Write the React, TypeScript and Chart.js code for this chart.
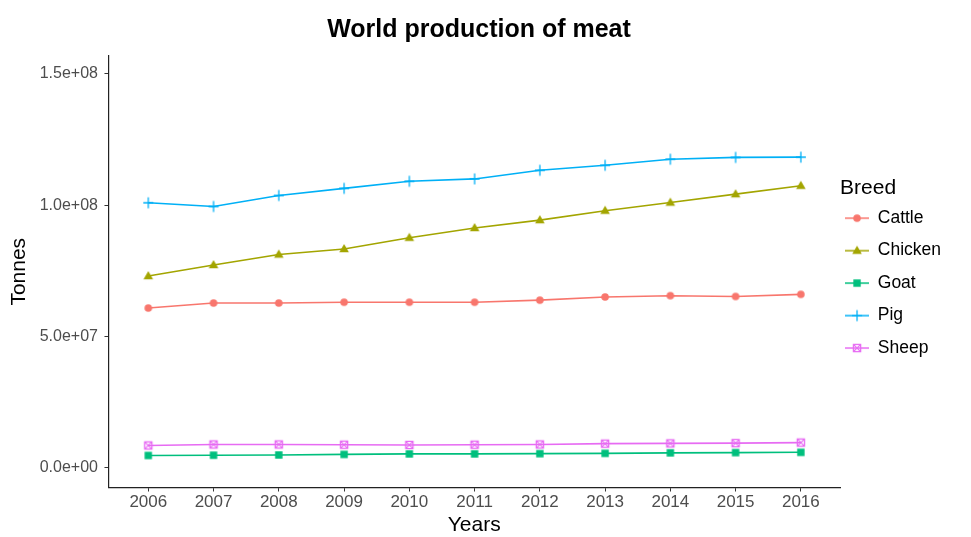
import React, { useEffect, useRef } from "react";
import { Chart, registerables } from "chart.js";

Chart.register(...registerables);

const years = [2006, 2007, 2008, 2009, 2010, 2011, 2012, 2013, 2014, 2015, 2016];
const cattle = [6.08e7, 6.27e7, 6.27e7, 6.3e7, 6.3e7, 6.3e7, 6.38e7, 6.5e7, 6.55e7, 6.52e7, 6.6e7];
const chicken = [7.3e7, 7.72e7, 8.12e7, 8.33e7, 8.76e7, 9.13e7, 9.43e7, 9.79e7, 1.01e8, 1.042e8, 1.074e8];
const goat = [4.6e6, 4.7e6, 4.8e6, 5.0e6, 5.2e6, 5.2e6, 5.3e6, 5.4e6, 5.6e6, 5.7e6, 5.8e6];
const pig = [1.009e8, 0.995e8, 1.037e8, 1.064e8, 1.091e8, 1.1e8, 1.133e8, 1.152e8, 1.175e8, 1.182e8, 1.183e8];
const sheep = [8.4e6, 8.8e6, 8.8e6, 8.7e6, 8.6e6, 8.7e6, 8.8e6, 9.1e6, 9.2e6, 9.3e6, 9.5e6];
const breeds = ["Cattle", "Chicken", "Goat", "Pig", "Sheep"];
const colors = ["#F8766D", "#A3A500", "#00BF7D", "#00B0F6", "#E76BF3"];
const markers = ["circle", "triangle", "square", "plus", "squarecross"];
const yTicks = [0, 5e7, 1e8, 1.5e8];

const FONT = "'Liberation Sans', Arial, sans-serif";

function drawMarker(ctx: CanvasRenderingContext2D, kind: string, color: string, cx: number, cy: number) {
  ctx.fillStyle = color;
  ctx.strokeStyle = color;
  ctx.lineWidth = 1.3;
  if (kind === "circle") {
    ctx.beginPath();
    ctx.arc(cx, cy, 3.8, 0, Math.PI * 2);
    ctx.fill();
  } else if (kind === "triangle") {
    ctx.beginPath();
    ctx.moveTo(cx, cy - 5);
    ctx.lineTo(cx + 4.8, cy + 3.3);
    ctx.lineTo(cx - 4.8, cy + 3.3);
    ctx.closePath();
    ctx.fill();
  } else if (kind === "square") {
    ctx.fillRect(cx - 3.7, cy - 3.7, 7.4, 7.4);
  } else if (kind === "plus") {
    ctx.beginPath();
    ctx.moveTo(cx - 5, cy);
    ctx.lineTo(cx + 5, cy);
    ctx.moveTo(cx, cy - 5.5);
    ctx.lineTo(cx, cy + 5.5);
    ctx.stroke();
  } else {
    ctx.strokeRect(cx - 3.6, cy - 3.6, 7.2, 7.2);
    ctx.beginPath();
    ctx.moveTo(cx - 3.6, cy - 3.6);
    ctx.lineTo(cx + 3.6, cy + 3.6);
    ctx.moveTo(cx + 3.6, cy - 3.6);
    ctx.lineTo(cx - 3.6, cy + 3.6);
    ctx.stroke();
  }
}

function markerCanvas(kind: string, color: string): HTMLCanvasElement {
  const c = document.createElement("canvas");
  c.width = 14;
  c.height = 14;
  const ctx = c.getContext("2d")!;
  drawMarker(ctx, kind, color, 7, 7);
  return c;
}

function legendCanvas(kind: string, color: string): HTMLCanvasElement {
  const c = document.createElement("canvas");
  c.width = 24;
  c.height = 14;
  const ctx = c.getContext("2d")!;
  ctx.strokeStyle = color;
  ctx.lineWidth = 1.5;
  ctx.beginPath();
  ctx.moveTo(0, 7);
  ctx.lineTo(24, 7);
  ctx.stroke();
  drawMarker(ctx, kind, color, 12, 7);
  return c;
}

function sci(v: number): string {
  const [m, e] = v.toExponential(1).split("e");
  const sign = e[0];
  const digits = e.slice(1).padStart(2, "0");
  return `${m}e${sign}${digits}`;
}

export default function App() {
  const ref = useRef<HTMLCanvasElement>(null);

  useEffect(() => {
    const series = [cattle, chicken, goat, pig, sheep];
    const datasets = breeds.map((name, i) => ({
      label: name,
      data: years.map((yr, j) => ({ x: yr, y: series[i][j] })),
      borderColor: colors[i],
      backgroundColor: colors[i],
      borderWidth: 1.6,
      pointStyle: markerCanvas(markers[i], colors[i]) as any,
      pointRadius: 5,
      tension: 0,
    }));
    const legendImgs = breeds.map((_, i) => legendCanvas(markers[i], colors[i]));

    const chart = new Chart(ref.current!, {
      type: "line",
      data: { datasets },
      options: {
        animation: false,
        responsive: false,
        maintainAspectRatio: false,
        layout: { padding: { left: 7, right: 20, top: 0, bottom: 0 } },
        plugins: {
          tooltip: { enabled: false },
          title: {
            display: true,
            text: "World production of meat",
            color: "#000",
            font: { family: FONT, size: 25, weight: "bold" },
            padding: { top: 15, bottom: 11 },
          },
          legend: {
            position: "right",
            align: "center",
            title: {
              display: true,
              text: "Breed",
              color: "#000",
              font: { family: FONT, size: 21 },
              padding: { top: 12, bottom: 2 },
              position: "start",
            } as any,
            labels: {
              usePointStyle: true,
              pointStyleWidth: 24,
              boxHeight: 14,
              padding: 5,
              color: "#111",
              font: { family: FONT, size: 17.5, lineHeight: 1.57 },
              generateLabels: (ch: any) =>
                ch.data.datasets.map((d: any, i: number) => ({
                  text: [d.label],
                  pointStyle: legendImgs[i],
                  datasetIndex: i,
                  fillStyle: colors[i],
                  strokeStyle: colors[i],
                  lineWidth: 0,
                  hidden: false,
                })),
            },
          },
        },
        scales: {
          x: {
            type: "linear",
            min: 2005.39,
            max: 2016.6,
            afterBuildTicks: (axis: any) => {
              axis.ticks = years.map((v) => ({ value: v }));
            },
            ticks: {
              color: "#4d4d4d",
              font: { family: FONT, size: 17 },
              padding: 1,
              maxRotation: 0,
              callback: (v: any) => String(v),
            },
            grid: { display: true, drawOnChartArea: false, drawTicks: true, tickLength: 4, color: "#333" },
            border: { display: true, color: "#222", width: 1.2 },
            title: {
              display: true,
              text: "Years",
              color: "#000",
              font: { family: FONT, size: 21, lineHeight: 1.1 },
              padding: { top: 0, bottom: 0 },
            },
          },
          y: {
            type: "linear",
            min: -7.61e6,
            max: 1.5685e8,
            afterBuildTicks: (axis: any) => {
              axis.ticks = yTicks.map((v) => ({ value: v }));
            },
            ticks: {
              color: "#4d4d4d",
              font: { family: FONT, size: 16 },
              padding: 6.5,
              callback: (v: any) => sci(Number(v)),
            },
            grid: { display: true, drawOnChartArea: false, drawTicks: true, tickLength: 4, color: "#333" },
            border: { display: true, color: "#222", width: 1.2 },
            title: {
              display: true,
              text: "Tonnes",
              color: "#000",
              font: { family: FONT, size: 21 },
              padding: { top: 0, bottom: 1 },
            },
          },
        },
      },
    });
    return () => chart.destroy();
  }, []);

  return (
    <div style={{ position: "absolute", left: 0, top: 0, width: 971, height: 537, background: "#fff" }}>
      <canvas ref={ref} width={971} height={537} style={{ display: "block", width: 971, height: 537 }} />
    </div>
  );
}
